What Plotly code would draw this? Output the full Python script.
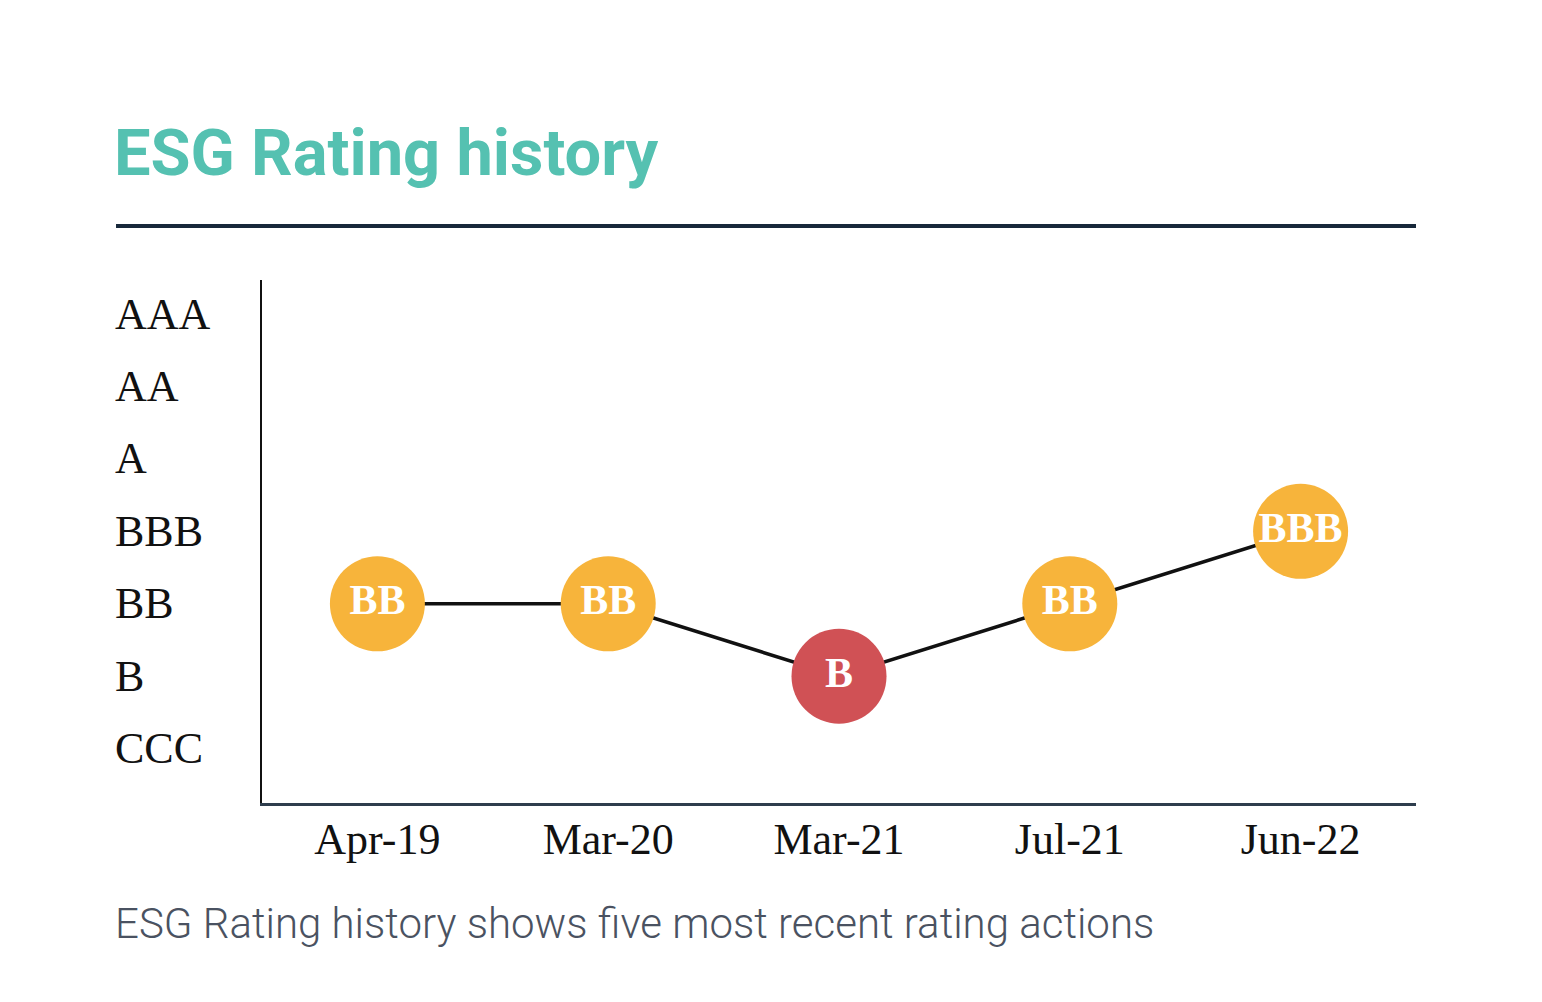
import plotly.graph_objects as go

dates = ["Apr-19", "Mar-20", "Mar-21", "Jul-21", "Jun-22"]
ratings = ["BB", "BB", "B", "BB", "BBB"]
scale = ["CCC", "B", "BB", "BBB", "A", "AA", "AAA"]
point_colors = ["#F7B43B", "#F7B43B", "#D05155", "#F7B43B", "#F7B43B"]

title_text = "ESG Rating history"
caption_text = "ESG Rating history shows five most recent rating actions"

SERIF = "Liberation Serif, Times New Roman, serif"
LEFT = -0.1265

fig = go.Figure()
fig.add_trace(go.Scatter(
    x=dates, y=ratings, mode="lines+markers+text",
    line=dict(color="#111111", width=3.5),
    marker=dict(size=95, color=point_colors, line=dict(width=0), opacity=1),
    text=ratings, textposition="middle center",
    textfont=dict(family=SERIF, size=42, color="white", weight="bold"),
    hoverinfo="skip", showlegend=False,
))

annotations = []
for s in scale:
    annotations.append(dict(
        x=LEFT, xref="paper", y=s, yref="y", text=s, showarrow=False,
        xanchor="left", yanchor="middle", xshift=-3,
        font=dict(family=SERIF, size=44, color="#111111"),
    ))
annotations.append(dict(
    x=LEFT, xref="paper", y=1.0, yref="paper", yshift=127, xshift=-4,
    text=title_text, showarrow=False, xanchor="left", yanchor="middle",
    font=dict(family="Roboto", size=65, color="#55C1B1", weight="bold"),
))
annotations.append(dict(
    x=LEFT, xref="paper", y=0.0, yref="paper", yshift=-120, xshift=-3,
    text=caption_text, showarrow=False, xanchor="left", yanchor="middle",
    font=dict(family="Roboto", size=42, color="#4A5261", weight=300),
))

fig.update_layout(
    width=1542, height=1002,
    margin=dict(l=254, r=134, t=272, b=207),
    paper_bgcolor="white", plot_bgcolor="white",
    annotations=annotations,
    shapes=[dict(type="line", xref="paper", yref="paper",
                 x0=LEFT, x1=1.0, ysizemode="pixel", yanchor=1.0,
                 y0=54, y1=54,
                 line=dict(color="#17283A", width=4))],
)

fig.update_xaxes(
    type="category", categoryorder="array", categoryarray=dates,
    range=[-0.5, 4.5], showgrid=False, zeroline=False,
    showline=True, linecolor="#2E3D4D", linewidth=3,
    ticks="", tickfont=dict(family=SERIF, size=44, color="#111111"),
    ticklabelstandoff=-5, fixedrange=True,
)
fig.update_yaxes(
    type="category", categoryorder="array", categoryarray=scale,
    range=[-0.75, 6.47], showgrid=False, zeroline=False,
    showline=True, linecolor="#111111", linewidth=2,
    ticks="", showticklabels=False, fixedrange=True,
)

fig.write_html("out.html")
